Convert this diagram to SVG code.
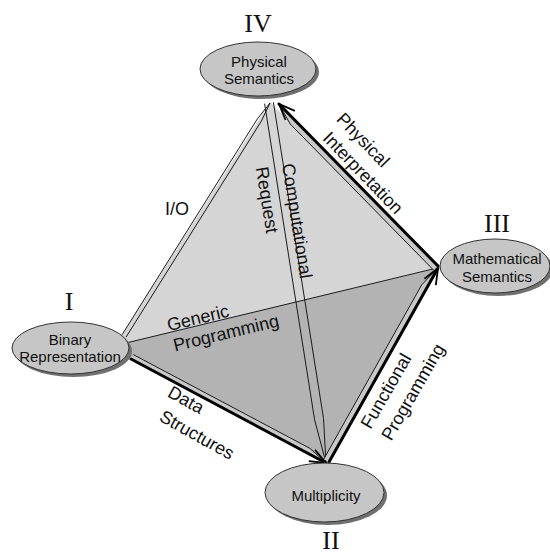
<svg xmlns="http://www.w3.org/2000/svg" width="550" height="555" viewBox="0 0 550 555">
<defs>
<style>
.face-light{fill:#d5d5d5}
.face-dark{fill:#b3b3b3}
.strip{fill:#c9c9c9}
.thin{stroke:#1a1a1a;stroke-width:1;fill:none;stroke-linejoin:round}
.thick{stroke:#000;stroke-width:3;fill:none;stroke-linecap:round}
.shadow{fill:#707070}
.node{fill:#c6c6c6;stroke:#333;stroke-width:1}
.nlabel{font-family:"Liberation Sans",Arial,sans-serif;font-size:15px;fill:#111;text-anchor:middle}
.elabel{font-family:"Liberation Sans",Arial,sans-serif;font-size:18px;fill:#111;text-anchor:middle}
.roman{font-family:"Liberation Serif","Times New Roman",serif;font-size:26px;fill:#111;text-anchor:middle}
</style>
<marker id="head" markerUnits="userSpaceOnUse" viewBox="-18 -9 20 18" markerWidth="20" markerHeight="18" refX="0" refY="0" orient="auto">
<path d="M-16,-6.5 L0,0 L-16,6.5" fill="none" stroke="#000" stroke-width="1.8"/>
</marker>
</defs>

<g id="faces">
<polygon class="face-light" points="122,335 270,102 438,268 126,345"/>
<polygon class="face-dark" points="128,342.5 438,268 326,463 131,359 126,350"/>
</g>

<g id="connectors">
<!-- Generic Programming I-III -->
<line class="thin" x1="128" y1="342.5" x2="437" y2="268"/>
<!-- I/O I-IV double line -->
<polyline class="thin" points="126,337.2 261.3,121.2 270,103"/>
<polyline class="thin" points="122,334.8 257.4,118.8 270,103"/>
<!-- Request / Computational IV-II double line -->
<polyline class="thin" points="264.6,103.7 314.6,419.8 326,463"/>
<polyline class="thin" points="273.4,102.3 323.5,418.4 326,463"/>
<!-- Data Structures I-II -->
<polygon class="strip" points="131,359 326,463 310,448.4 133.3,354.6"/>
<polyline class="thin" points="133.3,354.6 310,448.4 326,463"/>
<line class="thick" x1="131" y1="359" x2="326" y2="463" marker-end="url(#head)"/>
<!-- Functional Programming II-III -->
<polygon class="strip" points="329,462 438,268 421.8,284.7 323.8,459.1"/>
<polyline class="thin" points="323.8,459.1 421.8,284.7 438,268"/>
<line class="thick" x1="329" y1="462" x2="438" y2="268" marker-end="url(#head)"/>
<!-- Physical Interpretation III-IV -->
<polygon class="strip" points="438,266 279,104 290.2,124 433.7,270.2"/>
<polyline class="thin" points="433.7,270.2 290.2,124 279,104"/>
<line class="thick" x1="438" y1="266" x2="279" y2="104" marker-end="url(#head)"/>

<text class="elabel" x="177" y="215">I/O</text>
<text class="elabel" transform="translate(198,318) rotate(-13.5)" y="6">Generic</text>
<text class="elabel" transform="translate(226,333) rotate(-13.5)" y="6">Programming</text>
<text class="elabel" transform="translate(186,400) rotate(29)" y="6">Data</text>
<text class="elabel" transform="translate(197,435) rotate(29)" y="6">Structures</text>
<text class="elabel" transform="translate(363,140) rotate(46)" y="6">Physical</text>
<text class="elabel" transform="translate(363,173) rotate(46)" y="6">Interpretation</text>
<text class="elabel" transform="translate(267,200) rotate(81)" y="6">Request</text>
<text class="elabel" transform="translate(297,221) rotate(81)" y="6">Computational</text>
<text class="elabel" transform="translate(386,391) rotate(-60)" y="6">Functional</text>
<text class="elabel" transform="translate(413,392) rotate(-60)" y="6">Programming</text>
</g>

<g id="node-IV">
<ellipse class="shadow" cx="261" cy="72" rx="58" ry="27"/>
<ellipse class="node" cx="258" cy="69" rx="58" ry="27"/>
<text class="nlabel" x="259" y="67">Physical</text>
<text class="nlabel" x="259" y="84">Semantics</text>
<text class="roman" x="258" y="32">IV</text>
</g>

<g id="node-I">
<ellipse class="shadow" cx="73.5" cy="351" rx="58.5" ry="26"/>
<ellipse class="node" cx="70.5" cy="348" rx="58.5" ry="26"/>
<text class="nlabel" x="70" y="345">Binary</text>
<text class="nlabel" x="70" y="362">Representation</text>
<text class="roman" x="69" y="310">I</text>
</g>

<g id="node-III">
<ellipse class="shadow" cx="498" cy="269" rx="55" ry="27"/>
<ellipse class="node" cx="495" cy="266" rx="55" ry="27"/>
<text class="nlabel" x="497" y="264">Mathematical</text>
<text class="nlabel" x="497" y="282">Semantics</text>
<text class="roman" x="497" y="232">III</text>
</g>

<g id="node-II">
<ellipse class="shadow" cx="327.5" cy="495.5" rx="59.5" ry="29.5"/>
<ellipse class="node" cx="324.5" cy="492.5" rx="59.5" ry="29.5"/>
<text class="nlabel" x="326" y="501">Multiplicity</text>
<text class="roman" x="331" y="549">II</text>
</g>
</svg>
